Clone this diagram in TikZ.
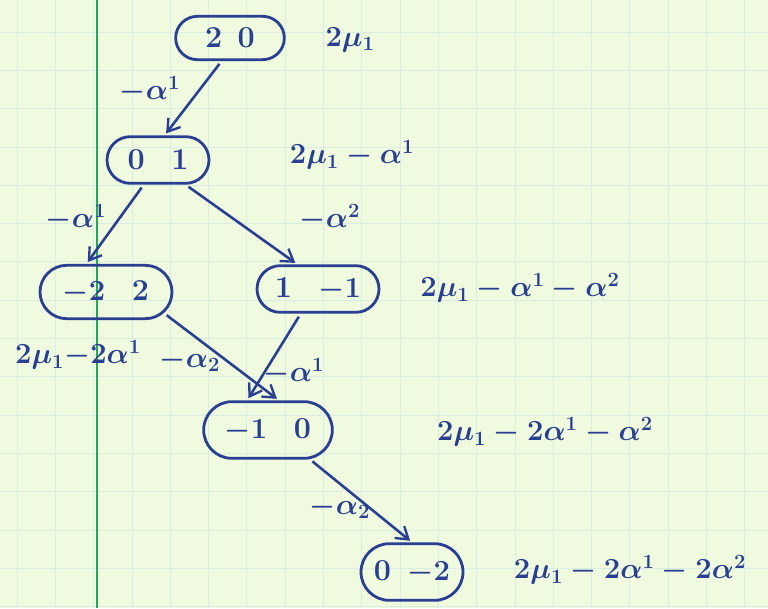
\documentclass[tikz,border=0pt]{standalone}
\usetikzlibrary{arrows.meta,shapes.misc}
\definecolor{paper}{HTML}{EFFADF}
\definecolor{gridline}{HTML}{D6EFE2}
\definecolor{marginline}{HTML}{22A85A}
\definecolor{ink}{HTML}{2A3F92}

\begin{document}
\begin{tikzpicture}[
  x=0.3mm, y=-0.3mm,
  font={\fontsize{26}{30}\selectfont\bfseries\boldmath},
  >={Straight Barb[length=10pt, width=13pt, line width=2pt]},
  weight/.style={rounded rectangle, draw=ink, line width=2.4pt, text=ink,
    inner sep=2pt, minimum height=13mm},
  ref/.style={->, draw=ink, line width=2.2pt, shorten <=3pt, shorten >=2pt},
  root/.style={text=ink, inner sep=1pt},
  level/.style={text=ink, anchor=center, inner sep=1pt}
]

% ---------------------------------------------------------------------------
% paper: graph squares and the margin line
% ---------------------------------------------------------------------------
\fill[paper] (0,0) rectangle (768,608);
\useasboundingbox (0,0) rectangle (768,608);
\foreach \gx in {17,55.3,...,768}
  \draw[gridline, line width=0.6pt] (\gx,0) -- (\gx,608);
\foreach \gy in {32,70.3,...,608}
  \draw[gridline, line width=0.6pt] (0,\gy) -- (768,\gy);
\draw[marginline, line width=1.2pt] (97,0) -- (97,608);

% ---------------------------------------------------------------------------
% weights of the representation
% ---------------------------------------------------------------------------
\node[weight, minimum width=34mm] (w20) at (230,38) {2\enspace 0};
\node[weight, minimum width=32mm, minimum height=14mm] (w01) at (158,160) {0\enspace\ 1};
\node[weight, minimum width=41mm, minimum height=16mm] (w22) at (106,292) {$-2$\enspace\ 2};
\node[weight, minimum width=38mm, minimum height=14mm] (w1m1) at (318,289) {1\enspace\ $-1$};
\node[weight, minimum width=40mm, minimum height=17mm] (wm10) at (268,430) {$-1$\enspace\ 0};
\node[weight, minimum width=32mm, minimum height=17mm] (w0m2) at (412,572) {0\,\ $-2$};

% levels
\node[level] (l20) at (350,40) {$2\mu_1$};
\node[level] (l01) at (352,155) {$2\mu_1-\alpha^1$};
\node[level] (l22) at (78,355) {$2\mu_1{-}2\alpha^1$};
\node[level] (l1m1) at (520,288) {$2\mu_1-\alpha^1-\alpha^2$};
\node[level] (lm10) at (545,432) {$2\mu_1-2\alpha^1-\alpha^2$};
\node[level] (l0m2) at (630,570) {$2\mu_1-2\alpha^1-2\alpha^2$};

% ---------------------------------------------------------------------------
% lowering by simple roots
% ---------------------------------------------------------------------------
\draw[ref] (w20.250) -- (w01.75);
\node[root] (r1) at (150,90) {$-\alpha^1$};

\draw[ref] (w01.240) -- (w22.125);
\node[root] (r2) at (76,218) {$-\alpha^1$};

\draw[ref] (w01.south east) -- (w1m1.130);
\node[root] (r3) at (330,218) {$-\alpha^2$};

\draw[ref] (w22.-20) -- (wm10.70);
\node[root] (r4) at (190,360) {$-\alpha_2$};

\draw[ref] (w1m1.235) -- (wm10.125);
\node[root] (r5) at (294,372) {$-\alpha^1$};

\draw[ref] (wm10.-35) -- (w0m2.north);
\node[root] (r6) at (340,507) {$-\alpha_2$};

\end{tikzpicture}
\end{document}
